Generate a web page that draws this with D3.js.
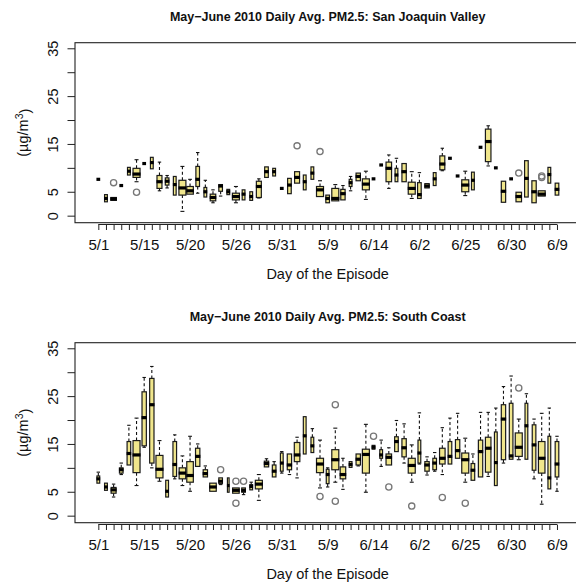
<!DOCTYPE html>
<html>
<head>
<meta charset="utf-8">
<script src="https://cdn.jsdelivr.net/npm/d3@7"></script>
<style>
  body { margin: 0; background: #fff; }
  svg { display: block; font-family: "Liberation Sans", Arial, Helvetica, sans-serif; }
</style>
</head>
<body>
<div id="chart"></div>
<script>
// day index 1..61 (May 1 - June 30), labelled every 6th tick
const days = d3.range(1, 62);
const dayLabels = ["5/1", "5/15", "5/20", "5/26", "5/31", "5/9", "6/14", "6/2", "6/25", "6/30", "6/9"];
const labelStep = 6;
const yTicks = [0, 5, 10, 15, 20, 25, 30, 35];
const yLabelled = [0, 5, 15, 25, 35];

// San Joaquin Valley: [min, q1, median, q3, max] per day
const sjvStats = [
  [7.6, 7.6, 7.6, 7.6, 7.6], [2.9, 2.9, 3.6, 4.4, 4.4], [3.2, 3.2, 3.5, 3.8, 3.8], [6.3, 6.3, 6.3, 6.3, 6.3],
  [8.5, 8.5, 9.3, 10.1, 10.1], [7.1, 8.0, 8.7, 9.9, 11.7], [10.9, 10.9, 10.9, 10.9, 10.9], [9.8, 9.8, 11.1, 12.2, 12.2],
  [5.2, 5.7, 7.1, 8.4, 11.2], [5.8, 6.4, 7.2, 7.9, 8.4], [4.3, 4.3, 6.5, 8.2, 8.2], [0.9, 4.3, 5.8, 7.4, 10.3],
  [4.5, 4.5, 5.2, 6.1, 7.6], [4.7, 6.1, 7.6, 10.3, 13.2], [3.9, 3.9, 5.0, 5.9, 7.4], [2.7, 3.1, 3.8, 4.5, 5.4],
  [4.1, 5.1, 6.2, 6.5, 6.5], [4.4, 4.4, 5.0, 5.5, 5.5], [2.7, 3.3, 4.0, 4.7, 6.1], [3.3, 3.3, 4.5, 5.4, 5.4],
  [3.2, 3.2, 4.0, 5.0, 5.0], [3.7, 3.8, 6.1, 7.2, 7.7], [8.0, 8.0, 9.2, 10.2, 10.2], [8.3, 8.3, 9.2, 9.9, 9.9],
  [5.7, 5.7, 5.7, 5.7, 5.7], [4.6, 4.6, 6.4, 7.8, 7.8], [6.8, 6.8, 8.0, 9.2, 9.2], [5.4, 5.4, 7.1, 8.5, 8.5],
  [7.6, 7.6, 8.9, 10.2, 10.2], [4.0, 4.0, 5.4, 6.1, 7.3], [2.7, 2.7, 3.6, 4.3, 4.3], [3.1, 3.1, 3.6, 5.7, 6.5],
  [3.3, 3.3, 4.6, 5.5, 6.3], [5.2, 6.1, 6.9, 7.6, 8.2], [7.3, 7.3, 8.2, 8.9, 8.9], [3.4, 5.4, 6.6, 7.7, 9.3],
  [7.7, 7.7, 7.7, 7.7, 7.7], [10.6, 10.6, 10.6, 10.6, 10.6], [5.7, 7.1, 9.9, 11.2, 12.7], [7.1, 7.1, 8.5, 9.9, 12.0],
  [7.1, 7.1, 9.2, 10.9, 10.9], [3.6, 4.5, 5.7, 7.0, 9.2], [3.6, 3.6, 4.4, 6.9, 9.0], [5.8, 5.8, 6.2, 6.7, 6.7],
  [6.3, 6.3, 7.7, 9.0, 9.0], [9.4, 9.6, 10.8, 12.5, 14.1], [12.0, 12.0, 12.0, 12.0, 12.0], [8.3, 8.3, 8.3, 8.3, 8.3],
  [4.2, 5.0, 6.4, 7.5, 9.3], [5.4, 5.4, 7.4, 9.1, 9.1], [14.3, 14.3, 14.3, 14.3, 14.3], [10.4, 11.3, 15.5, 18.1, 18.8],
  [10.0, 10.0, 10.0, 10.0, 10.0], [2.8, 2.8, 5.1, 7.2, 7.2], [7.7, 7.7, 7.7, 7.7, 7.7], [2.9, 2.9, 4.0, 4.9, 4.9],
  [3.9, 3.9, 7.8, 11.5, 11.5], [2.7, 2.7, 5.0, 7.3, 7.3], [4.1, 4.1, 4.5, 5.2, 5.2], [6.8, 6.8, 8.6, 10.1, 10.1],
  [4.3, 4.3, 5.5, 6.8, 6.8]
];
const sjvSites = [2, 2, 6, 2, 2, 9, 2, 2, 5, 3, 2, 9, 8, 3, 2, 6, 3, 2, 9, 2, 2, 5, 3, 2, 2, 3, 5, 2, 2, 9,
  3, 9, 4, 2, 4, 9, 2, 2, 6, 2, 4, 9, 3, 4, 2, 5, 2, 2, 9, 2, 2, 6, 2, 4, 2, 6, 3, 4, 9, 2, 3];
// [day, value]
const sjvOutliers = [[3, 6.9], [6, 4.9], [27, 14.6], [30, 13.4], [56, 8.9], [59, 8.0], [59, 8.3]];

// South Coast
const scStats = [
  [6.8, 6.8, 7.7, 8.3, 9.1], [5.3, 5.3, 6.0, 6.8, 6.8], [3.9, 4.7, 5.4, 5.9, 6.6], [8.6, 8.9, 9.6, 10.0, 11.0],
  [10.6, 10.6, 13.0, 15.5, 18.9], [6.3, 9.0, 12.7, 15.7, 20.4], [14.3, 14.6, 20.5, 25.9, 28.9], [10.0, 11.0, 23.2, 28.7, 31.2],
  [7.2, 7.9, 9.7, 12.6, 15.7], [3.9, 3.9, 5.1, 7.4, 7.4], [7.7, 8.2, 10.7, 15.5, 16.9], [6.3, 7.7, 8.9, 10.0, 12.5],
  [5.1, 7.0, 8.4, 11.3, 16.6], [10.3, 10.3, 12.4, 14.1, 15.0], [8.1, 8.1, 8.8, 9.6, 10.4], [5.1, 5.1, 6.0, 6.8, 6.8],
  [6.5, 6.7, 7.2, 7.9, 7.9], [4.9, 4.9, 6.3, 7.9, 7.9], [4.7, 4.7, 5.3, 5.8, 5.8], [4.4, 4.9, 5.3, 5.8, 5.8],
  [5.4, 5.4, 6.1, 6.5, 7.0], [3.2, 5.6, 6.6, 7.4, 8.6], [10.2, 10.2, 10.9, 11.4, 11.9], [8.1, 8.1, 9.3, 10.6, 11.3],
  [8.9, 9.3, 11.0, 13.1, 13.4], [8.6, 9.6, 10.6, 12.9, 12.9], [7.9, 11.3, 12.7, 15.3, 16.4], [12.9, 12.9, 16.7, 20.7, 20.7],
  [13.2, 13.2, 14.6, 16.4, 18.2], [5.8, 9.0, 10.8, 12.0, 15.8], [6.0, 6.7, 8.6, 9.7, 10.0], [7.0, 9.6, 11.7, 13.8, 18.3],
  [5.5, 7.7, 8.6, 10.2, 12.0], [10.1, 10.1, 10.7, 11.3, 11.3], [10.4, 10.6, 11.8, 12.9, 12.9], [4.9, 8.9, 12.8, 13.9, 19.1],
  [13.9, 13.9, 14.3, 14.7, 14.7], [10.3, 12.0, 12.7, 13.8, 15.8], [10.6, 10.6, 12.2, 12.9, 14.2], [13.4, 13.4, 15.5, 16.5, 19.9],
  [11.0, 12.3, 14.2, 16.1, 19.2], [7.0, 8.9, 10.5, 12.0, 14.8], [10.8, 11.0, 13.1, 15.8, 21.5], [8.5, 9.3, 10.6, 11.3, 12.3],
  [9.3, 9.6, 11.0, 12.0, 13.2], [8.6, 10.8, 12.0, 14.1, 18.4], [10.8, 10.8, 12.4, 15.5, 20.4], [12.0, 12.0, 13.6, 15.9, 21.4],
  [7.0, 8.9, 11.7, 13.1, 16.2], [7.4, 7.4, 9.5, 10.9, 12.9], [8.1, 8.1, 13.4, 15.8, 21.6], [8.2, 9.1, 14.1, 16.4, 21.6],
  [6.3, 6.3, 11.1, 17.5, 22.5], [11.0, 11.7, 20.2, 23.2, 27.0], [11.8, 11.8, 12.5, 23.5, 29.2], [11.7, 12.4, 14.3, 17.3, 20.2],
  [11.8, 11.8, 18.8, 23.5, 25.5], [7.7, 9.5, 14.8, 19.0, 20.2], [2.4, 8.9, 12.0, 15.5, 21.4], [5.6, 5.6, 7.9, 16.6, 22.5],
  [5.1, 8.1, 10.8, 15.5, 16.6]
];
const scSites = [2, 2, 5, 3, 3, 9, 4, 4, 9, 2, 3, 8, 8, 4, 4, 8, 3, 1, 8, 3, 2, 9, 4, 3, 2, 4, 6, 2, 2, 9,
  2, 9, 6, 2, 4, 9, 2, 2, 6, 3, 4, 9, 2, 4, 3, 6, 3, 4, 9, 3, 4, 6, 2, 4, 3, 9, 2, 3, 8, 2, 3];
const scOutliers = [[17, 9.6], [19, 7.2], [19, 2.6], [20, 7.2], [30, 4.0], [32, 23.2], [32, 3.0], [37, 16.6],
  [39, 6.0], [42, 2.0], [46, 3.8], [49, 2.6], [56, 26.7]];

const panels = [
  {title: "May\u2212June 2010 Daily Avg. PM2.5: San Joaquin Valley", stats: sjvStats, sites: sjvSites, outliers: sjvOutliers},
  {title: "May\u2212June 2010 Daily Avg. PM2.5: South Coast", stats: scStats, sites: scSites, outliers: scOutliers}
];

// layout
const width = 576, height = 587;
const plotLeft = 75, plotH = 180, panelStep = 300, firstTop = 42.7;
const fill = "#F0E68C";

const svg = d3.select("#chart").append("svg")
  .attr("width", width)
  .attr("height", height);
svg.append("rect").attr("width", width).attr("height", height).attr("fill", "#fff");

const x = d3.scaleLinear()
  .domain([-2.05, 64.05])
  .range([plotLeft, 580.3]);

const boxW = d3.scaleSqrt().domain([0, 9]).range([0, 8]);

panels.forEach(function (p, pi) {
  const top = firstTop + pi * panelStep, bottom = top + plotH;
  const y = d3.scaleLinear().domain([-1.47, 36.17]).range([bottom, top]);
  const g = svg.append("g").attr("class", "panel");
  const midX = (x.range()[0] + x.range()[1]) / 2;

  // title
  g.append("text")
    .attr("x", midX)
    .attr("y", top - 22.2)
    .attr("text-anchor", "middle")
    .style("font-weight", "bold")
    .style("font-size", "12.5px")
    .attr("fill", "#111")
    .text(p.title);

  // boxes
  const box = g.selectAll(".box")
    .data(p.stats.map((s, i) => ({day: days[i], s: s, n: p.sites[i]})))
    .enter().append("g")
    .attr("class", "box")
    .attr("transform", d => "translate(" + x(d.day) + ",0)");

  box.filter(d => d.s[4] > d.s[3]).append("line")
    .attr("y1", d => y(d.s[3])).attr("y2", d => y(d.s[4]))
    .attr("stroke", "#111").attr("stroke-width", 1.1).attr("stroke-dasharray", "3,2.5");
  box.filter(d => d.s[0] < d.s[1]).append("line")
    .attr("y1", d => y(d.s[1])).attr("y2", d => y(d.s[0]))
    .attr("stroke", "#111").attr("stroke-width", 1.1).attr("stroke-dasharray", "3,2.5");
  box.filter(d => d.s[4] > d.s[3]).append("line")
    .attr("x1", d => -Math.max(boxW(d.n) / 4, 1.7)).attr("x2", d => Math.max(boxW(d.n) / 4, 1.7))
    .attr("y1", d => y(d.s[4])).attr("y2", d => y(d.s[4]))
    .attr("stroke", "#111").attr("stroke-width", 1.1);
  box.filter(d => d.s[0] < d.s[1]).append("line")
    .attr("x1", d => -Math.max(boxW(d.n) / 4, 1.7)).attr("x2", d => Math.max(boxW(d.n) / 4, 1.7))
    .attr("y1", d => y(d.s[0])).attr("y2", d => y(d.s[0]))
    .attr("stroke", "#111").attr("stroke-width", 1.1);

  box.append("rect")
    .attr("x", d => -(boxW(d.n) - 1) / 2)
    .attr("width", d => boxW(d.n) - 1)
    .attr("y", d => y(d.s[3]))
    .attr("height", d => y(d.s[1]) - y(d.s[3]))
    .attr("fill", fill)
    .attr("stroke", "#1a1a1a")
    .attr("stroke-width", 1.2);

  box.append("line")
    .attr("x1", d => -boxW(d.n) / 2).attr("x2", d => boxW(d.n) / 2)
    .attr("y1", d => y(d.s[2])).attr("y2", d => y(d.s[2]))
    .attr("stroke", "#000").attr("stroke-width", 3.2);

  // outliers
  g.selectAll(".out")
    .data(p.outliers)
    .enter().append("circle")
    .attr("class", "out")
    .attr("cx", d => x(d[0]))
    .attr("cy", d => y(d[1]))
    .attr("r", 3.1)
    .attr("fill", "none")
    .attr("stroke", "#777")
    .attr("stroke-width", 1.3);

  // frame (right edge falls off the page)
  g.append("rect")
    .attr("x", plotLeft).attr("y", top)
    .attr("width", x.range()[1] - plotLeft).attr("height", plotH)
    .attr("fill", "none").attr("stroke", "#222").attr("stroke-width", 1.1);

  // y axis
  const yAxis = g.append("g")
    .attr("transform", "translate(" + plotLeft + ",0)")
    .call(d3.axisLeft(y).tickValues(yTicks).tickSize(7.5).tickSizeOuter(0)
      .tickFormat(v => yLabelled.includes(v) ? v : ""));
  yAxis.select(".domain").remove();
  yAxis.selectAll("line").attr("stroke", "#222");
  yAxis.selectAll("text")
    .attr("x", null).attr("dy", null)
    .attr("transform", "translate(-17.3,0) rotate(-90)")
    .attr("text-anchor", "middle")
    .attr("fill", "#111")
    .style("font-size", "14.5px")
    .style("font-family", null);

  // x axis
  const xAxisY = bottom + 1.8;
  const xAxis = g.append("g")
    .attr("transform", "translate(0," + xAxisY + ")")
    .call(d3.axisBottom(x).tickValues(days).tickSize(5.5).tickSizeOuter(0)
      .tickFormat((d, i) => i % labelStep === 0 ? dayLabels[i / labelStep] : ""));
  xAxis.select(".domain").remove();
  xAxis.append("line")
    .attr("x1", x(days[0])).attr("x2", x(days[days.length - 1]))
    .attr("stroke", "#222");
  xAxis.selectAll(".tick line").attr("stroke", "#222");
  xAxis.selectAll("text")
    .attr("y", 25.5).attr("dy", null)
    .attr("fill", "#111")
    .style("font-size", "15px")
    .style("font-family", null);

  // axis titles
  g.append("text")
    .attr("x", midX)
    .attr("y", top + 236.5)
    .attr("text-anchor", "middle")
    .style("font-size", "14.5px")
    .attr("fill", "#111")
    .text("Day of the Episode");

  const yt = g.append("text")
    .attr("transform", "translate(28," + (top + plotH / 2) + ") rotate(-90)")
    .attr("text-anchor", "middle")
    .style("font-size", "14.5px")
    .attr("fill", "#111");
  yt.append("tspan").text("(\u00b5g/m");
  yt.append("tspan").attr("dy", "-0.45em").style("font-size", "10.5px").text("3");
  yt.append("tspan").attr("dy", "0.45em").text(")");
});
</script>
</body>
</html>
